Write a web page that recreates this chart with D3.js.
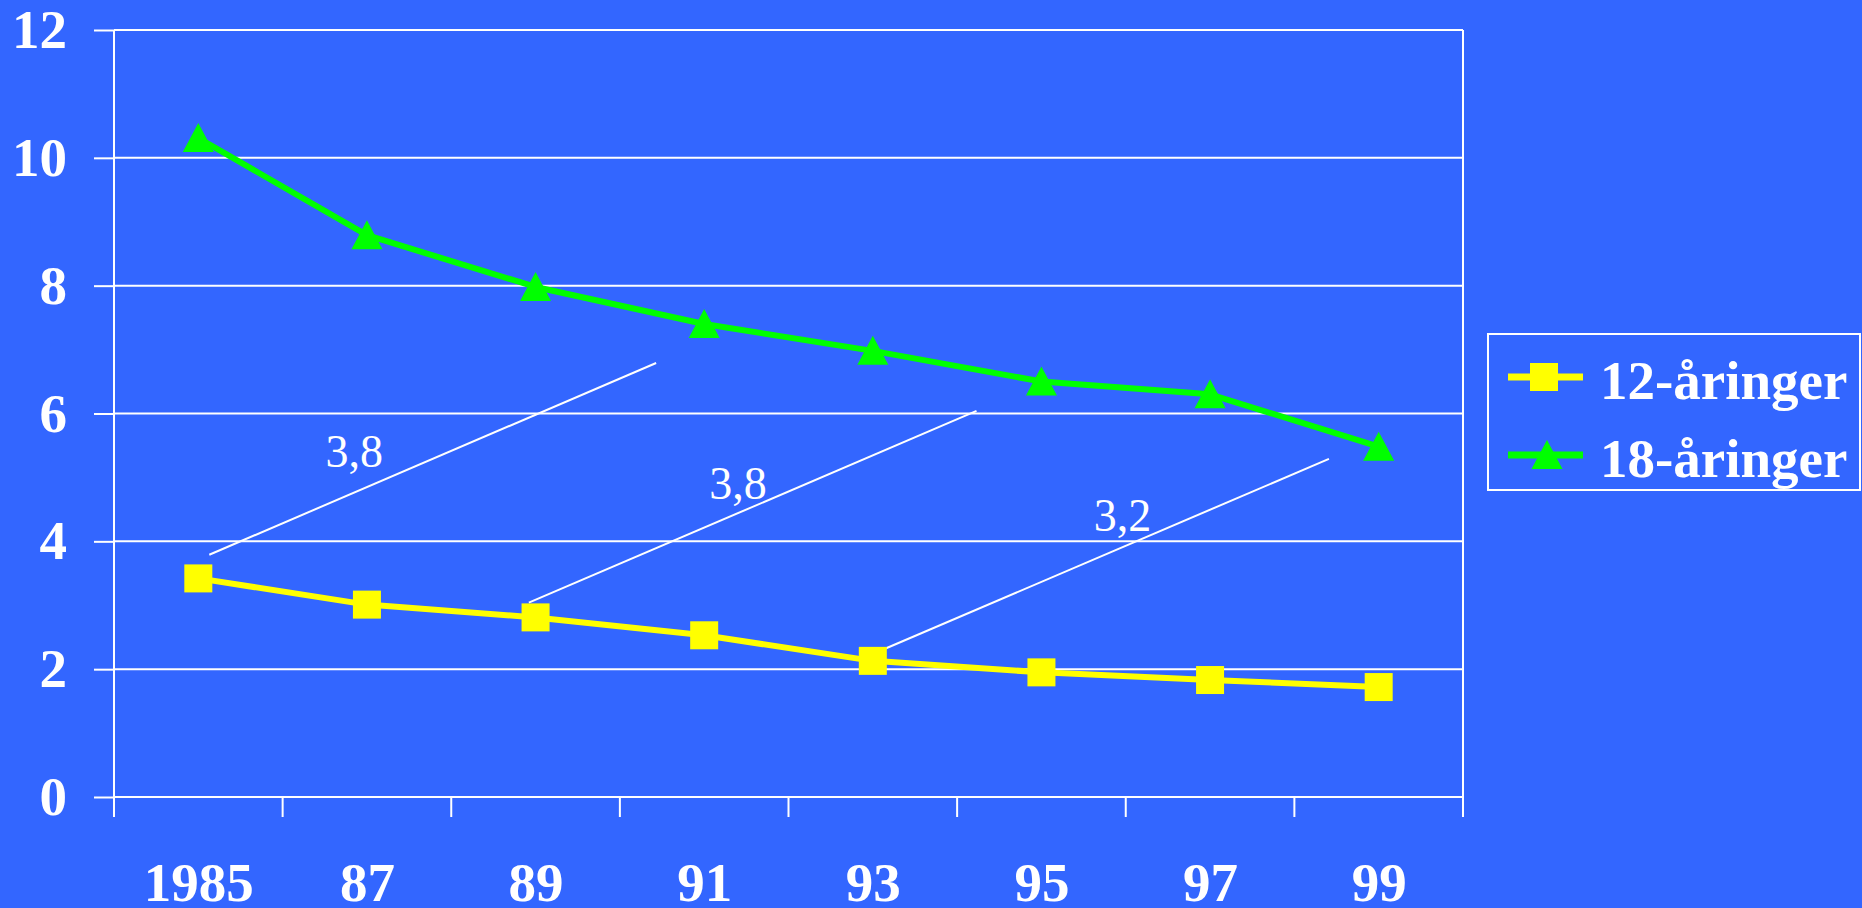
<!DOCTYPE html>
<html lang="sv">
<head>
<meta charset="UTF-8">
<title>12- och 18-åringer 1985-99</title>
<script src="https://d3js.org/d3.v7.min.js"></script>
<style>
  body { margin: 0; background: #3366ff; }
  svg { display: block; }
</style>
</head>
<body>
<script>
// values
const years = ["1985", "87", "89", "91", "93", "95", "97", "99"];
const yearNums = [1985, 1987, 1989, 1991, 1993, 1995, 1997, 1999];
const age12 = [3.42, 3.01, 2.81, 2.53, 2.13, 1.95, 1.83, 1.72];
const age18 = [10.31, 8.79, 7.98, 7.40, 6.98, 6.50, 6.30, 5.48];
const yTicks = [0, 2, 4, 6, 8, 10, 12];
const seriesNames = ["12-åringer", "18-åringer"];

// annotation lines (year, value) and their labels
const noteLabels = ["3,8", "3,8", "3,2"];
const noteFrom = [[1985.13, 3.79], [1988.92, 3.04], [1993.11, 2.30]];
const noteTo = [[1990.43, 6.79], [1994.23, 6.04], [1998.41, 5.29]];
const noteAt = [[1986.85, 5.16], [1991.40, 4.66], [1995.96, 4.16]];

const W = 1862, H = 908;
const plot = { left: 114, right: 1463, top: 30, bottom: 797 };
const font = "'Liberation Serif', 'Times New Roman', serif";
const bg = "#3366ff";
const colors = ["#ffff00", "#00ff00"];

const svg = d3.select("body").append("svg")
    .attr("width", W)
    .attr("height", H);

svg.append("rect").attr("width", W).attr("height", H).attr("fill", bg);

const xBand = d3.scaleBand().domain(years).range([plot.left, plot.right]);
const xPoint = d3.scalePoint().domain(years).range([plot.left, plot.right]).padding(0.5);
const xYear = d3.scaleLinear()
    .domain([yearNums[0], yearNums[yearNums.length - 1]])
    .range([xPoint(years[0]), xPoint(years[years.length - 1])]);
const y = d3.scaleLinear().domain([0, 12]).range([plot.bottom, plot.top]);

// horizontal grid lines
svg.append("g").selectAll("line")
    .data(yTicks)
    .join("line")
    .attr("x1", plot.left)
    .attr("x2", plot.right)
    .attr("y1", d => y(d))
    .attr("y2", d => y(d))
    .attr("stroke", "#fff")
    .attr("stroke-width", 2);

// left axis line and right frame
svg.append("g").selectAll("line")
    .data([plot.left, plot.right])
    .join("line")
    .attr("x1", d => d)
    .attr("x2", d => d)
    .attr("y1", plot.top)
    .attr("y2", plot.bottom + 20)
    .attr("stroke", "#fff")
    .attr("stroke-width", 2);

// x tick marks sit on the category boundaries
const boundaries = years.map(d => xBand(d)).concat([plot.right]);
svg.append("g").selectAll("line")
    .data(boundaries)
    .join("line")
    .attr("x1", d => d)
    .attr("x2", d => d)
    .attr("y1", plot.bottom)
    .attr("y2", plot.bottom + 20)
    .attr("stroke", "#fff")
    .attr("stroke-width", 2);

// y axis
const yAxis = svg.append("g")
    .attr("transform", `translate(${plot.left},0)`)
    .call(d3.axisLeft(y).tickValues(yTicks).tickSize(20).tickPadding(27));
yAxis.select(".domain").remove();
yAxis.selectAll(".tick line").attr("stroke", "#fff").attr("stroke-width", 2);
yAxis.selectAll(".tick text")
    .attr("fill", "#fff")
    .style("font-family", font)
    .style("font-weight", "bold")
    .style("font-size", "55px");

// x axis labels
const xAxis = svg.append("g")
    .attr("transform", `translate(0,${plot.bottom})`)
    .call(d3.axisBottom(xPoint).tickSize(0).tickPadding(65));
xAxis.select(".domain").remove();
xAxis.selectAll(".tick text")
    .attr("fill", "#fff")
    .style("font-family", font)
    .style("font-weight", "bold")
    .style("font-size", "55px");

// annotations
const notes = svg.append("g");
notes.selectAll("line")
    .data(noteLabels.map((t, i) => ({ from: noteFrom[i], to: noteTo[i] })))
    .join("line")
    .attr("x1", d => xYear(d.from[0]))
    .attr("y1", d => y(d.from[1]))
    .attr("x2", d => xYear(d.to[0]))
    .attr("y2", d => y(d.to[1]))
    .attr("stroke", "#fff")
    .attr("stroke-width", 2);
notes.selectAll("text")
    .data(noteLabels.map((t, i) => ({ text: t, at: noteAt[i] })))
    .join("text")
    .attr("x", d => xYear(d.at[0]))
    .attr("y", d => y(d.at[1]))
    .attr("text-anchor", "middle")
    .attr("fill", "#fff")
    .style("font-family", font)
    .style("font-size", "46px")
    .text(d => d.text);

// series
const line = d3.line()
    .x((d, i) => xPoint(years[i]))
    .y(d => y(d));

const series = [age12, age18];
const trianglePath = "M0,-15L15.5,14L-15.5,14Z";

series.forEach((vals, s) => {
    svg.append("path")
        .datum(vals)
        .attr("d", line)
        .attr("fill", "none")
        .attr("stroke", colors[s])
        .attr("stroke-width", 6)
        .attr("stroke-linejoin", "round");

    const marks = svg.append("g").selectAll(".mark")
        .data(vals)
        .join(s === 0 ? "rect" : "path")
        .attr("fill", colors[s]);
    if (s === 0) {
        marks.attr("x", (d, i) => xPoint(years[i]) - 14)
            .attr("y", d => y(d) - 14)
            .attr("width", 28)
            .attr("height", 28);
    } else {
        marks.attr("d", trianglePath)
            .attr("transform", (d, i) => `translate(${xPoint(years[i])},${y(d)})`);
    }
});

// legend
const legend = svg.append("g");
legend.append("rect")
    .attr("x", 1488)
    .attr("y", 334)
    .attr("width", 372)
    .attr("height", 156)
    .attr("fill", "none")
    .attr("stroke", "#fff")
    .attr("stroke-width", 2);

const item = legend.selectAll(".item")
    .data(seriesNames)
    .join("g")
    .attr("class", "item")
    .attr("transform", (d, i) => `translate(0,${377 + i * 78})`);

item.append("line")
    .attr("x1", 1508)
    .attr("x2", 1583)
    .attr("stroke", (d, i) => colors[i])
    .attr("stroke-width", 7);

item.filter((d, i) => i === 0).append("rect")
    .attr("x", 1530)
    .attr("y", -14)
    .attr("width", 28)
    .attr("height", 28)
    .attr("fill", colors[0]);

item.filter((d, i) => i === 1).append("path")
    .attr("d", trianglePath)
    .attr("transform", "translate(1547,0)")
    .attr("fill", colors[1]);

item.append("text")
    .attr("x", 1600)
    .attr("y", 22)
    .attr("fill", "#fff")
    .style("font-family", font)
    .style("font-weight", "bold")
    .style("font-size", "55px")
    .text(d => d);
</script>
</body>
</html>
